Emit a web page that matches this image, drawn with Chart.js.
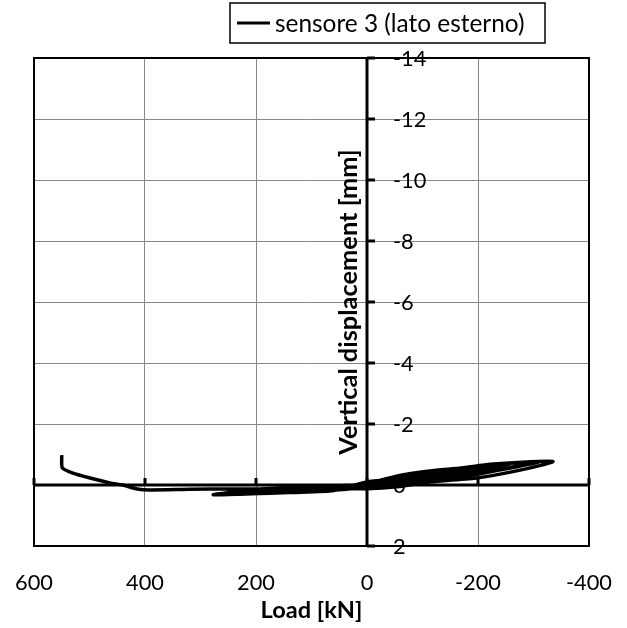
<!DOCTYPE html>
<html>
<head>
<meta charset="utf-8">
<script src="https://cdn.jsdelivr.net/npm/chart.js@4.4.1/dist/chart.umd.min.js"></script>
<style>
  body { margin: 0; background: #fff; }
  #wrap { width: 627px; height: 628px; }
</style>
</head>
<body>
<div id="wrap"><canvas id="chart" width="627" height="628"></canvas></div>
<script>
// Load [kN] vs vertical displacement [mm]
const seriesName = 'sensore 3 (lato esterno)';
const xTitle = 'Load [kN]';
const yTitle = 'Vertical displacement [mm]';
const xTicks = [600, 400, 200, 0, -200, -400];
const yTicks = [-14, -12, -10, -8, -6, -4, -2, 0, 2];

// cyclic part (several loops, growing amplitude) then the final push to ~550 kN
const loadKN = [
    0, -30, -60, -100, -70, -35, 0, 35, 70, 100, 70, 35, 0,
    -40, -90, -140, -180, -140, -90, -40, 0, 50, 100, 140, 180, 130, 70, 20,
    -30, -80, -130, -190, -150, -100, -50, 0, 60, 130, 200, 140, 80, 20,
    -20, -70, -130, -190, -250, -210, -150, -100, -50, 0, 60, 120, 180, 240, 180, 110, 50, 0,
    -40, -100, -160, -220, -260, -220, -160, -100, -40, 0, 70, 140, 200, 250, 190, 120, 60, 0,
    -50, -110, -170, -230, -300, -260, -200, -140, -80, -30, 0, 70, 140, 200, 265, 200, 130, 60, 0,
    -60, -120, -180, -250, -310, -270, -210, -150, -90, -40, 0, 70, 150, 220, 270, 210, 140, 70, 0,
    -55, -113, -170, -222, -280, -335, -315, -261, -200, -113, -54, 0, 70, 140, 210, 277, 230, 160, 90, 30, 0,
    60, 130, 200, 247, 320, 391, 414, 440, 463, 499, 530, 549, 550
];
const displMM = [
    0, -0.08, -0.17, -0.3, -0.2, -0.08, 0.04, 0.05, 0.08, 0.14, 0.16, 0.12, 0.06,
    -0.1, -0.25, -0.4, -0.52, -0.38, -0.22, -0.07, 0.05, 0.05, 0.09, 0.13, 0.22, 0.22, 0.17, 0.1,
    -0.12, -0.27, -0.41, -0.56, -0.4, -0.24, -0.08, 0.02, 0.04, 0.1, 0.25, 0.24, 0.18, 0.08,
    -0.1, -0.24, -0.42, -0.57, -0.7, -0.52, -0.32, -0.16, -0.02, 0.02, 0.03, 0.07, 0.13, 0.26, 0.26, 0.22, 0.14, 0.04,
    -0.14, -0.33, -0.5, -0.63, -0.7, -0.55, -0.36, -0.19, -0.03, 0, 0.04, 0.08, 0.14, 0.28, 0.27, 0.23, 0.15, 0.03,
    -0.22, -0.4, -0.56, -0.68, -0.76, -0.58, -0.36, -0.2, -0.02, 0.07, 0.06, 0.06, 0.1, 0.16, 0.3, 0.28, 0.24, 0.18, -0.1,
    -0.2, -0.38, -0.55, -0.7, -0.76, -0.6, -0.4, -0.24, -0.08, 0.04, 0.08, 0.05, 0.1, 0.18, 0.31, 0.29, 0.25, 0.19, -0.04,
    -0.3, -0.46, -0.56, -0.68, -0.75, -0.77, -0.65, -0.43, -0.24, -0.1, 0.06, 0.12, 0.1, 0.12, 0.2, 0.32, 0.3, 0.26, 0.2, 0.12, -0.02,
    0.08, 0.12, 0.13, 0.13, 0.14, 0.16, 0.13, 0, -0.07, -0.23, -0.39, -0.56, -0.98
];

const FONT = 'Lato';
const points = loadKN.map((x, i) => ({ x: x, y: displMM[i] }));

// pick a font size so the text comes out about as wide as in the picture
const measureCtx = document.createElement('canvas').getContext('2d');
function fitFont(text, weight, width) {
    measureCtx.font = weight + ' 100px ' + FONT;
    const size = 100 * width / measureCtx.measureText(text).width;
    return weight + ' ' + size.toFixed(1) + 'px ' + FONT;
}
const tickFont = fitFont('200', 'normal', 38);
const legendFont = fitFont(seriesName, 'normal', 250);
const xTitleFont = fitFont(xTitle, 'bold', 102);
const yTitleFont = fitFont(yTitle, 'bold', 306);
const tickSize = parseFloat(tickFont.split(' ')[1]);

// axes through zero, plot frame, labels next to the vertical axis, titles, boxed legend
const excelLook = {
    id: 'excelLook',
    beforeDatasetsDraw(chart) {
        const { ctx, chartArea: a, scales: { x, y } } = chart;
        const x0 = x.getPixelForValue(0);
        const y0 = y.getPixelForValue(0);
        ctx.save();
        ctx.strokeStyle = '#000';
        ctx.lineWidth = 2;
        ctx.strokeRect(a.left, a.top, a.right - a.left, a.bottom - a.top);

        ctx.lineWidth = 3;
        ctx.beginPath();
        ctx.moveTo(a.left, y0); ctx.lineTo(a.right, y0);
        ctx.moveTo(x0, a.top); ctx.lineTo(x0, a.bottom);
        ctx.stroke();

        // tick marks
        ctx.beginPath();
        yTicks.forEach(v => {
            const py = y.getPixelForValue(v);
            ctx.moveTo(x0, py); ctx.lineTo(x0 + 8, py);
        });
        xTicks.forEach(v => {
            const px = x.getPixelForValue(v);
            ctx.moveTo(px, y0); ctx.lineTo(px, y0 - 7);
        });
        ctx.stroke();
        ctx.restore();
    },
    afterDraw(chart) {
        const { ctx, chartArea: a, scales: { x, y } } = chart;
        const x0 = x.getPixelForValue(0);
        ctx.save();
        ctx.fillStyle = '#000';

        ctx.font = tickFont;
        ctx.textAlign = 'left';
        ctx.textBaseline = 'middle';
        yTicks.forEach(v => {
            ctx.fillText(String(v), x0 + 26, y.getPixelForValue(v) + 1);
        });

        ctx.font = xTitleFont;
        ctx.textAlign = 'center';
        ctx.fillText(xTitle, (a.left + a.right) / 2, 610);

        ctx.font = yTitleFont;
        ctx.save();
        ctx.translate(349, (a.top + a.bottom) / 2);
        ctx.rotate(-Math.PI / 2);
        ctx.fillText(yTitle, 0, 0);
        ctx.restore();

        // legend
        const bx = 230, by = 3, bw = 315, bh = 40;
        ctx.fillStyle = '#fff';
        ctx.fillRect(bx, by, bw, bh);
        ctx.strokeStyle = '#000';
        ctx.lineWidth = 1.5;
        ctx.strokeRect(bx, by, bw, bh);
        ctx.lineWidth = 3;
        ctx.beginPath();
        ctx.moveTo(bx + 7, by + bh / 2);
        ctx.lineTo(bx + 40, by + bh / 2);
        ctx.stroke();
        ctx.fillStyle = '#000';
        ctx.font = legendFont;
        ctx.textAlign = 'left';
        ctx.fillText(seriesName, bx + 45, by + bh / 2 + 1);
        ctx.restore();
    }
};

new Chart(document.getElementById('chart'), {
    type: 'scatter',
    data: {
        datasets: [{
            label: seriesName,
            data: points,
            showLine: true,
            borderColor: '#000',
            borderWidth: 3.5,
            pointRadius: 0,
            tension: 0.2
        }]
    },
    options: {
        responsive: false,
        animation: false,
        layout: { padding: { top: 58, right: 38, left: 0, bottom: 0 } },
        plugins: {
            legend: { display: false },
            tooltip: { enabled: false }
        },
        scales: {
            x: {
                type: 'linear',
                min: -400,
                max: 600,
                reverse: true,
                afterFit: s => { s.height = 82; s.paddingLeft = 0; s.paddingRight = 0; },
                afterBuildTicks: s => { s.ticks = xTicks.map(v => ({ value: v })); },
                ticks: {
                    color: '#000',
                    padding: 24,
                    maxRotation: 0,
                    autoSkip: false,
                    font: { family: FONT, size: tickSize }
                },
                grid: { color: '#878787', lineWidth: 1, drawTicks: false },
                border: { display: false }
            },
            y: {
                type: 'linear',
                min: -14,
                max: 2,
                reverse: true,
                afterFit: s => { s.width = 34; s.paddingTop = 0; s.paddingBottom = 0; },
                afterBuildTicks: s => { s.ticks = yTicks.map(v => ({ value: v })); },
                ticks: { display: false },
                grid: { color: '#878787', lineWidth: 1, drawTicks: false },
                border: { display: false }
            }
        }
    },
    plugins: [excelLook]
});
</script>
</body>
</html>
